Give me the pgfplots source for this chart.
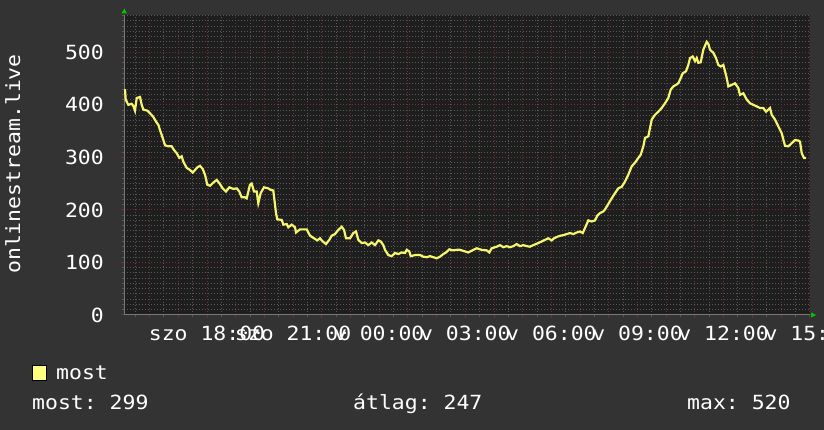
\documentclass[border=0pt]{standalone}
\usepackage{pgfplots}
\pgfplotsset{compat=1.18}
\usepackage{fontspec}
\setmainfont{DejaVu Sans Mono}[FakeStretch=1.1]
\definecolor{bg}{RGB}{51,51,51}
\definecolor{canvas}{RGB}{30,30,30}
\definecolor{majgrid}{RGB}{115,48,48}
\definecolor{mingrid}{RGB}{88,88,88}
\definecolor{linecol}{RGB}{245,245,110}
\definecolor{legfill}{RGB}{255,255,128}
\definecolor{arrowgreen}{RGB}{0,200,0}
\frenchspacing
\begin{document}
\begin{tikzpicture}[x=1pt,y=1pt,font=\fontsize{19.5}{22}\selectfont]
\fill[bg] (0,0) rectangle (824,430);
\path[use as bounding box] (0,0) rectangle (824,430);
\begin{axis}[
  at={(124pt,115pt)}, anchor=south west,
  width=686pt, height=300pt, scale only axis,
  xmin=-2.892, xmax=21.01, ymin=0, ymax=571,
  axis background/.style={fill=canvas},
  axis lines=left,
  axis line style={draw=mingrid!80!white, -, line width=1pt},
  xtick={-2,-1,...,21},
  xticklabels={{},{},{szo 18:00},{},{},{szo 21:00},{},{},{v 00:00},{},{},{v 03:00},{},{},{v 06:00},{},{},{v 09:00},{},{},{v 12:00},{},{},{v 15:00}},
  ytick={0,100,...,500},
  yticklabels={0,100,200,300,400,500},
  minor xtick={-2.5,-1.5,...,20.5},
  minor ytick={10,20,...,90,110,120,...,190,210,220,...,290,310,320,...,390,410,420,...,490,510,520,...,570},
  grid=both,
  major grid style={draw=majgrid, line width=1pt, dash pattern=on 1pt off 2pt},
  minor grid style={draw=mingrid, line width=1pt, dash pattern=on 1pt off 2pt},
  tick align=outside,
  major tick length=3pt, minor tick length=2pt,
  every major tick/.append style={draw=majgrid, line width=1pt},
  every minor tick/.append style={draw=mingrid, line width=1pt},
  tick label style={text=white, font=\fontsize{19.5}{22}\selectfont},
  xticklabel style={anchor=base, inner sep=0pt, yshift=-22.7pt},
  yticklabel style={anchor=east, inner sep=0pt, xshift=-17pt},
]
\addplot[linecol, line width=2.2pt, mark=none] coordinates {
(-2.857,430)(-2.833,410)(-2.742,400)(-2.624,402)(-2.568,398)(-2.509,389)(-2.449,413)(-2.334,415)(-2.275,400)(-2.220,391)(-2.080,389)(-1.986,384)(-1.871,377)(-1.777,368)(-1.697,362)(-1.638,352)(-1.544,337)(-1.463,323)(-1.348,321)(-1.230,321)(-1.150,314)(-1.056,308)(-0.965,299)(-0.882,302)(-0.826,292)(-0.707,280)(-0.592,276)(-0.498,271)(-0.418,276)(-0.338,281)(-0.244,284)(-0.150,278)(-0.070,267)(0.010,248)(0.105,246)(0.220,252)(0.338,257)(0.429,251)(0.547,241)(0.662,235)(0.777,243)(0.916,240)(1.035,241)(1.125,235)(1.209,224)(1.324,224)(1.383,222)(1.498,248)(1.557,250)(1.638,235)(1.732,235)(1.787,213)(1.871,232)(1.986,243)(2.136,241)(2.220,238)(2.310,237)(2.404,194)(2.449,182)(2.603,181)(2.659,172)(2.777,173)(2.833,167)(2.951,172)(3.066,167)(3.101,157)(3.240,163)(3.474,163)(3.589,151)(3.728,146)(3.843,142)(3.937,146)(4.031,140)(4.146,135)(4.261,143)(4.345,151)(4.460,154)(4.575,162)(4.693,168)(4.774,162)(4.843,146)(4.983,146)(5.098,156)(5.192,159)(5.272,143)(5.390,137)(5.505,138)(5.620,133)(5.739,138)(5.854,133)(5.969,142)(6.052,140)(6.143,133)(6.202,124)(6.317,114)(6.436,112)(6.551,118)(6.666,116)(6.784,119)(6.899,118)(6.958,124)(7.049,121)(7.098,112)(7.247,114)(7.422,114)(7.537,111)(7.655,110)(7.770,112)(7.885,110)(8.003,108)(8.118,111)(8.233,116)(8.328,119)(8.443,125)(8.561,123)(8.700,124)(8.815,124)(8.990,121)(9.105,119)(9.279,124)(9.397,127)(9.571,124)(9.746,123)(9.836,119)(9.920,127)(10.094,130)(10.209,133)(10.324,129)(10.443,131)(10.557,129)(10.672,131)(10.791,135)(10.906,131)(11.021,133)(11.139,131)(11.254,130)(11.369,133)(11.544,137)(11.662,140)(11.777,143)(11.892,146)(12.010,142)(12.091,146)(12.206,149)(12.324,151)(12.415,152)(12.533,154)(12.648,156)(12.763,154)(12.882,157)(12.997,159)(13.091,156)(13.206,170)(13.286,180)(13.404,178)(13.519,180)(13.599,189)(13.693,194)(13.808,197)(13.868,201)(14.101,222)(14.216,232)(14.331,241)(14.449,244)(14.564,254)(14.679,267)(14.798,283)(14.913,290)(15.028,299)(15.111,305)(15.202,321)(15.261,337)(15.376,340)(15.436,356)(15.495,372)(15.610,381)(15.725,387)(15.843,394)(15.958,403)(16.073,413)(16.157,429)(16.247,435)(16.341,438)(16.421,441)(16.481,448)(16.575,460)(16.690,464)(16.770,476)(16.829,489)(16.923,492)(17.003,483)(17.063,489)(17.118,480)(17.202,481)(17.293,505)(17.411,520)(17.467,516)(17.526,505)(17.641,499)(17.735,489)(17.815,476)(17.899,473)(17.990,476)(18.049,464)(18.108,451)(18.164,435)(18.282,438)(18.397,441)(18.512,432)(18.571,419)(18.686,422)(18.805,410)(18.920,403)(19.035,400)(19.153,397)(19.268,394)(19.383,394)(19.477,387)(19.557,391)(19.617,394)(19.676,381)(19.791,372)(19.906,359)(20.024,346)(20.139,322)(20.254,321)(20.373,327)(20.488,333)(20.603,332)(20.662,330)(20.721,308)(20.801,299)(20.871,299)
};
\end{axis}
% axis arrows
\fill[arrowgreen] (121.5,416.5) -- (127,416.5) -- (124.25,421.5) -- cycle;
\fill[arrowgreen] (811,117.5) -- (811,112.5) -- (816,115) -- cycle;
% y axis title
\node[rotate=90, anchor=base, inner sep=0pt, text=white] at (20,266) {onlinestream.live};
% legend
\fill[legfill, draw=black, line width=1pt] (32,49) rectangle (46,64);
\node[anchor=base west, inner sep=0pt, text=white] at (56,50) {most};
\node[anchor=base west, inner sep=0pt, text=white] at (32,20.5) {most: 299};
\node[anchor=base west, inner sep=0pt, text=white] at (353,20.5) {átlag: 247};
\node[anchor=base west, inner sep=0pt, text=white] at (687,20.5) {max: 520};
\end{tikzpicture}
\end{document}
